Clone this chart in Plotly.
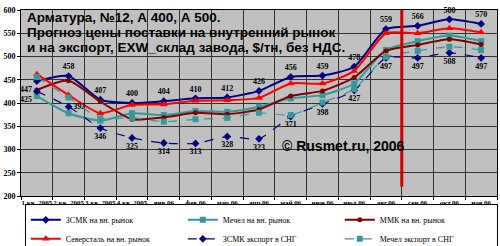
import plotly.graph_objects as go

categories = ["1 кв. 2005", "2 кв. 2005", "3 кв. 2005", "4 кв. 2005", "янв.06", "фев.06",
              "мар.06", "апр.06", "май.06", "июн.06", "июл.06", "авг.06", "сен.06", "окт.06", "ноя.06"]

zsmk_dom = [447, 458, 407, 400, 404, 410, 412, 426, 456, 459, 478, 559, 566, 580, 570]
mechel_dom = [415, 378, 362, 378, 374, 383, 381, 392, 410, 417, 442, 514, 533, 545, 533]
mmk_dom = [428, 448, 403, 365, 369, 379, 376, 386, 415, 426, 455, 512, 525, 537, 526]
severstal_dom = [462, 417, 378, 396, 397, 405, 406, 411, 442, 442, 469, 550, 550, 561, 552]
zsmk_exp = [425, 392, 346, 325, 314, 313, 328, 323, 371, 398, 427, 497, 497, 508, 497]
mechel_exp = [456, 412, 367, 368, 360, 365, 368, 379, 374, 401, 430, 499, 512, 521, 514]

title_lines = ["Арматура, №12, А 400, А 500.",
               "Прогноз цены поставки на внутренний рынок",
               "и на экспорт, EXW_склад завода, $/тн, без НДС."]

forecast_start = 11.5  # between авг.06 and сен.06

serif = "Liberation Serif"
sans = "Liberation Sans"

navy = "#000080"
teal = "#339999"
red = "#ff0000"
maroon = "#800000"

fig = go.Figure()

def add(name, y, color, symbol, dash="solid", text=None, textpos=None, msize=6):
    fig.add_trace(go.Scatter(
        x=categories, y=y, name=name,
        mode="lines+markers" + ("+text" if text else ""),
        line=dict(color=color, width=2 if dash == "solid" else 1.2, dash=dash, shape="spline", smoothing=0.6),
        marker=dict(symbol=symbol, size=msize, color=color),
        text=text, textposition=textpos,
        textfont=dict(family=serif, size=8, color="black", weight="bold"),
        cliponaxis=False,
    ))

pos_dom = ["bottom left", "top center"] + ["top center"] * 13
pos_exp = ["bottom left", "middle right"] + ["bottom center"] * 13

add("ЗСМК на вн. рынок", zsmk_dom, navy, "diamond", text=[str(v) for v in zsmk_dom], textpos=pos_dom)
add("Мечел на вн. рынок", mechel_dom, teal, "square")
add("ММК на вн. рынок", mmk_dom, maroon, "circle", msize=5)
add("Северсталь на вн. рынок", severstal_dom, red, "triangle-up", msize=7)
add("ЗСМК экспорт в СНГ", zsmk_exp, navy, "diamond", dash="dash", text=[str(v) for v in zsmk_exp], textpos=pos_exp)
add("Мечел экспорт в СНГ", mechel_exp, teal, "square", dash="dash")

fig.add_shape(type="line", xref="x", yref="y", x0=forecast_start, x1=forecast_start,
              y0=220, y1=600, line=dict(color="#d00000", width=3))

for line, yy in zip(title_lines, [0.962, 0.878, 0.800]):
    fig.add_annotation(xref="paper", yref="paper", x=0.008, y=yy, xanchor="left", yanchor="middle",
                       align="left", showarrow=False, text=line,
                       font=dict(family=sans, size=13.5, color="black", weight="bold"))
fig.add_annotation(xref="paper", yref="paper", x=0.545, y=0.27, xanchor="left", yanchor="middle",
                   showarrow=False, text="© Rusmet.ru, 2006",
                   font=dict(family=sans, size=14, color="black", weight="bold"))

fig.update_layout(
    width=500, height=246,
    margin=dict(l=21, r=3, t=10, b=50, autoexpand=False),
    paper_bgcolor="white", plot_bgcolor="#c0c0c0",
    showlegend=True,
    legend=dict(orientation="h", x=0.008, y=-0.045, xanchor="left", yanchor="top",
                entrywidth=112, entrywidthmode="pixels",
                bgcolor="white", bordercolor="black", borderwidth=1,
                font=dict(family=serif, size=8, color="black"),
                tracegroupgap=0, itemwidth=30),
    xaxis=dict(type="category", tickson="boundaries", showgrid=True, gridcolor="#333333", gridwidth=1,
               ticks="outside", ticklen=3, tickcolor="black",
               tickfont=dict(family=serif, size=7, color="black", weight="bold"),
               tickangle=0, showline=True, linecolor="black", mirror=True,
               range=[-0.5, 14.5]),
    yaxis=dict(range=[200, 600], dtick=50, showgrid=True, gridcolor="#333333", gridwidth=1,
               ticks="outside", ticklen=3, tickcolor="black",
               tickfont=dict(family=serif, size=8, color="black", weight="bold"),
               showline=True, linecolor="black", mirror=True, zeroline=False),
)

fig.write_html("out.html")
